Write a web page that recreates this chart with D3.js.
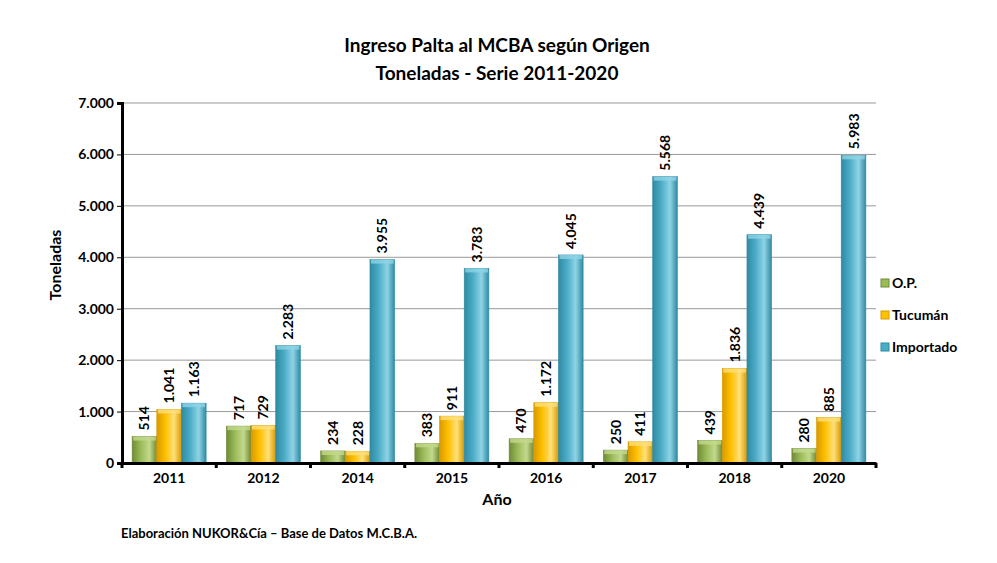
<!DOCTYPE html><html><head><meta charset="utf-8"><script src="https://cdn.jsdelivr.net/npm/d3@7"></script>
<style>body{margin:0;background:#fff}text{font-family:Lato,"Open Sans",sans-serif;font-weight:bold}</style></head><body><svg id="c" width="997" height="563"></svg><script>
const years=["2011","2012","2014","2015","2016","2017","2018","2020"];
const op=[514,717,234,383,470,250,439,280];
const tucuman=[1041,729,228,911,1172,411,1836,885];
const importado=[1163,2283,3955,3783,4045,5568,4439,5983];
const seriesNames=["O.P.","Tucumán","Importado"];
const yTicks=[0,1000,2000,3000,4000,5000,6000,7000];
const cols=[["#9bbb59","#6f8a36","#c3d98c"],["#ffc000","#d99a00","#ffe07a"],["#4bacc6","#2f8aa3","#8fd3e6"]];
const svg=d3.select("#c");
const fmt=v=>d3.format(",")(v).replace(/,/g,".");
const x=d3.scaleBand().domain(years).range([122,876]);
const xi=d3.scaleBand().domain([0,1,2]).range([0,74]);
const y=d3.scaleLinear().domain([0,7000]).range([463,103]);
const defs=svg.append("defs");
cols.forEach((c,i)=>{const g=defs.append("linearGradient").attr("id","g"+i);
g.append("stop").attr("offset","0%").attr("stop-color",c[1]);
g.append("stop").attr("offset","35%").attr("stop-color",c[0]);
g.append("stop").attr("offset","70%").attr("stop-color",c[2]);
g.append("stop").attr("offset","100%").attr("stop-color",c[1]);});
svg.append("g").selectAll("line").data(yTicks.slice(1)).join("line").attr("x1",122).attr("x2",876).attr("y1",d=>y(d)).attr("y2",d=>y(d)).attr("stroke","#999").attr("stroke-width",1);
const data=[op,tucuman,importado];
data.forEach((arr,s)=>{
 const g=svg.append("g");
 arr.forEach((v,i)=>{
  const x0=x(years[i])+(x.bandwidth()-74)/2+xi(s);const w=xi.bandwidth();
  g.append("rect").attr("x",x0).attr("y",y(v)).attr("width",w).attr("height",y(0)-y(v)).attr("fill",`url(#g${s})`).attr("stroke",cols[s][1]).attr("stroke-width",0.6);
  g.append("rect").attr("x",x0+1).attr("y",y(v)).attr("width",w-2).attr("height",4).attr("fill",cols[s][2]).attr("opacity",0.8);
  g.append("text").attr("transform",`translate(${x0+w/2+5},${y(v)-6}) rotate(-90)`).attr("font-size",14).attr("fill","#000").text(fmt(v));
 });
});
const ya=svg.append("g").attr("transform","translate(122,0)").call(d3.axisLeft(y).tickValues(yTicks).tickFormat(fmt).tickSize(5));
ya.select(".domain").attr("stroke-width",3);ya.selectAll("text").attr("font-size",14).attr("fill","#000");
const xa=svg.append("g").attr("transform","translate(0,463)").call(d3.axisBottom(x).tickSize(0));
xa.select(".domain").attr("stroke-width",3);xa.selectAll("text").attr("font-size",14).attr("dy","1.2em").attr("fill","#000");
svg.append("g").selectAll("line").data(d3.range(9)).join("line").attr("x1",d=>122+d*x.step()).attr("x2",d=>122+d*x.step()).attr("y1",463).attr("y2",468).attr("stroke","#000").attr("stroke-width",3);
svg.append("text").attr("x",497).attr("y",52).attr("text-anchor","middle").attr("font-size",19).text("Ingreso Palta al MCBA según Origen");
svg.append("text").attr("x",497).attr("y",80).attr("text-anchor","middle").attr("font-size",19).text("Toneladas - Serie 2011-2020");
svg.append("text").attr("transform","translate(61,265) rotate(-90)").attr("text-anchor","middle").attr("font-size",16).text("Toneladas");
svg.append("text").attr("x",497).attr("y",505).attr("text-anchor","middle").attr("font-size",16).text("Año");
svg.append("text").attr("x",121).attr("y",538).attr("font-size",13).text("Elaboración NUKOR&Cía – Base de Datos M.C.B.A.");
seriesNames.forEach((n,i)=>{const yy=284+i*32;
 svg.append("rect").attr("x",881).attr("y",yy-5).attr("width",8).attr("height",8).attr("fill",cols[i][0]).attr("stroke",cols[i][1]);
 svg.append("text").attr("x",892).attr("y",yy+4).attr("font-size",14).text(n);});
</script></body></html>
